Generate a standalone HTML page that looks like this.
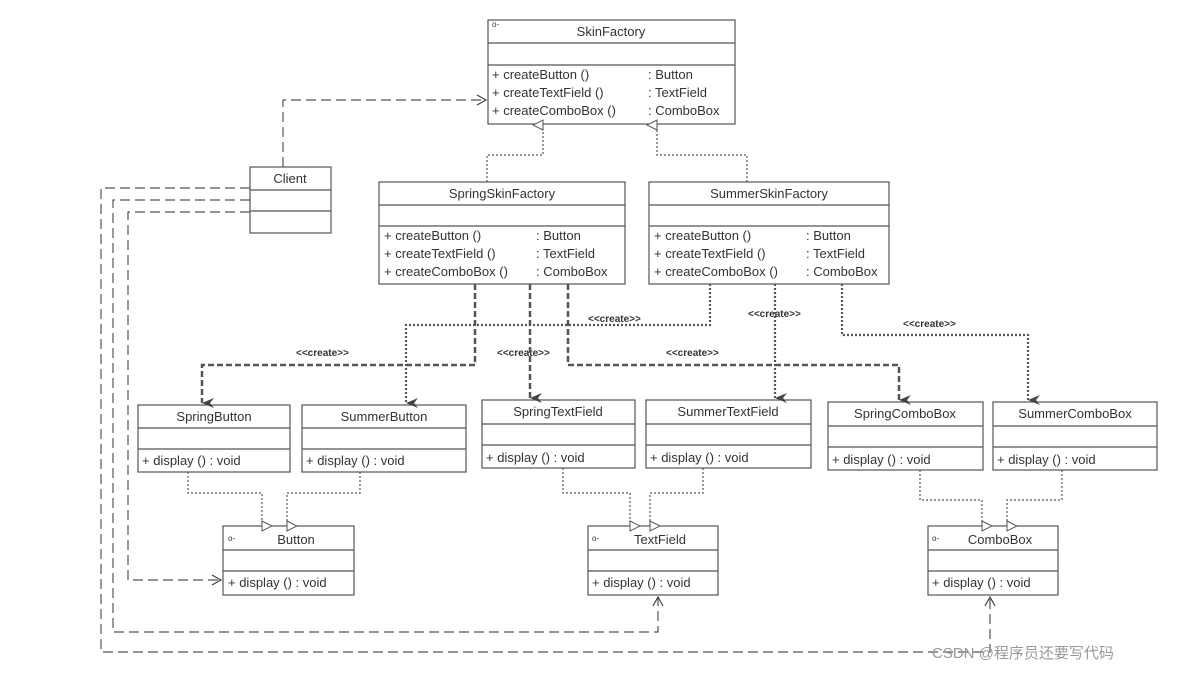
<!DOCTYPE html>
<html><head><meta charset="utf-8"><style>
html,body{margin:0;padding:0;background:#fff;}
svg text{font-family:"Liberation Sans",sans-serif;fill:#333;}
</style></head><body>
<svg width="1179" height="671" viewBox="0 0 1179 671" xmlns="http://www.w3.org/2000/svg">
<defs>
<marker id="tri" markerWidth="12" markerHeight="12" refX="6" refY="11" orient="auto" markerUnits="userSpaceOnUse"><path d="M1,11 L6,1 L11,11 Z" transform="rotate(0)" fill="#fff" stroke="#555"/></marker>
<marker id="open" markerWidth="12" markerHeight="12" refX="10" refY="6" orient="auto" markerUnits="userSpaceOnUse"><path d="M1,1 L10,6 L1,11" fill="none" stroke="#444" stroke-width="1.2"/></marker>
<marker id="fill" markerWidth="12" markerHeight="14" refX="6" refY="13" orient="auto-start-reverse" markerUnits="userSpaceOnUse"><path d="M1,1 L6,13 L11,1 L6,5 Z" fill="#444"/></marker>
</defs>
<g fill="#fff" stroke="#555" stroke-width="1.2">
<rect x="488" y="20" width="247" height="104"/><line x1="488" y1="43" x2="735" y2="43"/><line x1="488" y1="65" x2="735" y2="65"/>
<rect x="250" y="167" width="81" height="66"/><line x1="250" y1="190" x2="331" y2="190"/><line x1="250" y1="211" x2="331" y2="211"/>
<rect x="379" y="182" width="246" height="102"/><line x1="379" y1="205" x2="625" y2="205"/><line x1="379" y1="226" x2="625" y2="226"/>
<rect x="649" y="182" width="240" height="102"/><line x1="649" y1="205" x2="889" y2="205"/><line x1="649" y1="226" x2="889" y2="226"/>
<rect x="138" y="405" width="152" height="67"/><line x1="138" y1="428" x2="290" y2="428"/><line x1="138" y1="449" x2="290" y2="449"/>
<rect x="302" y="405" width="164" height="67"/><line x1="302" y1="428" x2="466" y2="428"/><line x1="302" y1="449" x2="466" y2="449"/>
<rect x="482" y="400" width="153" height="68"/><line x1="482" y1="424" x2="635" y2="424"/><line x1="482" y1="445" x2="635" y2="445"/>
<rect x="646" y="400" width="165" height="68"/><line x1="646" y1="424" x2="811" y2="424"/><line x1="646" y1="445" x2="811" y2="445"/>
<rect x="828" y="402" width="155" height="68"/><line x1="828" y1="426" x2="983" y2="426"/><line x1="828" y1="447" x2="983" y2="447"/>
<rect x="993" y="402" width="164" height="68"/><line x1="993" y1="426" x2="1157" y2="426"/><line x1="993" y1="447" x2="1157" y2="447"/>
<rect x="223" y="526" width="131" height="69"/><line x1="223" y1="550" x2="354" y2="550"/><line x1="223" y1="571" x2="354" y2="571"/>
<rect x="588" y="526" width="130" height="69"/><line x1="588" y1="550" x2="718" y2="550"/><line x1="588" y1="571" x2="718" y2="571"/>
<rect x="928" y="526" width="130" height="69"/><line x1="928" y1="550" x2="1058" y2="550"/><line x1="928" y1="571" x2="1058" y2="571"/>
</g>
<g font-size="13">
<text x="611" y="36" text-anchor="middle">SkinFactory</text>
<text x="492" y="27" font-size="8">o-</text>
<text x="492" y="79">+  createButton ()</text><text x="648" y="79">: Button</text>
<text x="492" y="97">+  createTextField ()</text><text x="648" y="97">: TextField</text>
<text x="492" y="115">+  createComboBox ()</text><text x="648" y="115">: ComboBox</text>
<text x="290" y="183" text-anchor="middle">Client</text>
<text x="502" y="198" text-anchor="middle">SpringSkinFactory</text>
<text x="384" y="240">+  createButton ()</text><text x="536" y="240">: Button</text>
<text x="384" y="258">+  createTextField ()</text><text x="536" y="258">: TextField</text>
<text x="384" y="276">+  createComboBox ()</text><text x="536" y="276">: ComboBox</text>
<text x="769" y="198" text-anchor="middle">SummerSkinFactory</text>
<text x="654" y="240">+  createButton ()</text><text x="806" y="240">: Button</text>
<text x="654" y="258">+  createTextField ()</text><text x="806" y="258">: TextField</text>
<text x="654" y="276">+  createComboBox ()</text><text x="806" y="276">: ComboBox</text>
<text x="214" y="421" text-anchor="middle">SpringButton</text><text x="142" y="465">+ display () : void</text>
<text x="384" y="421" text-anchor="middle">SummerButton</text><text x="306" y="465">+ display () : void</text>
<text x="558" y="416" text-anchor="middle">SpringTextField</text><text x="486" y="462">+ display () : void</text>
<text x="728" y="416" text-anchor="middle">SummerTextField</text><text x="650" y="462">+ display () : void</text>
<text x="905" y="418" text-anchor="middle">SpringComboBox</text><text x="832" y="464">+ display () : void</text>
<text x="1075" y="418" text-anchor="middle">SummerComboBox</text><text x="997" y="464">+ display () : void</text>
<text x="296" y="544" text-anchor="middle">Button</text><text x="228" y="587">+ display () : void</text>
<text x="660" y="544" text-anchor="middle">TextField</text><text x="592" y="587">+ display () : void</text>
<text x="1000" y="544" text-anchor="middle">ComboBox</text><text x="932" y="587">+ display () : void</text>
<text x="228" y="541" font-size="8">o-</text><text x="592" y="541" font-size="8">o-</text><text x="932" y="541" font-size="8">o-</text>
</g>
<g font-size="10" font-weight="bold" fill="#333">
<text x="296" y="356">&lt;&lt;create&gt;&gt;</text>
<text x="497" y="356">&lt;&lt;create&gt;&gt;</text>
<text x="666" y="356">&lt;&lt;create&gt;&gt;</text>
<text x="588" y="322">&lt;&lt;create&gt;&gt;</text>
<text x="748" y="317">&lt;&lt;create&gt;&gt;</text>
<text x="903" y="327">&lt;&lt;create&gt;&gt;</text>
</g>
<g fill="none" stroke="#555" stroke-width="1.2">
<!-- client to skinfactory -->
<polyline points="283,167 283,100 486,100" stroke-dasharray="10,5" marker-end="url(#open)"/>
<!-- realization -->
<polyline points="487,182 487,155 543,155 543,125" stroke-dasharray="2,2" marker-end="url(#tri)"/>
<polyline points="747,182 747,155 657,155 657,125" stroke-dasharray="2,2" marker-end="url(#tri)"/>
<!-- generalization -->
<polyline points="188,472 188,493 262,493 262,526" stroke-dasharray="2,2" marker-end="url(#tri)"/>
<polyline points="360,472 360,493 287,493 287,526" stroke-dasharray="2,2" marker-end="url(#tri)"/>
<polyline points="563,468 563,493 630,493 630,526" stroke-dasharray="2,2" marker-end="url(#tri)"/>
<polyline points="703,468 703,493 650,493 650,526" stroke-dasharray="2,2" marker-end="url(#tri)"/>
<polyline points="920,470 920,500 982,500 982,526" stroke-dasharray="2,2" marker-end="url(#tri)"/>
<polyline points="1062,470 1062,500 1007,500 1007,526" stroke-dasharray="2,2" marker-end="url(#tri)"/>
<!-- client lines -->
<polyline points="250,188 101,188 101,652 990,652 990,597" stroke-dasharray="10,5" marker-end="url(#open)"/>
<polyline points="250,200 113,200 113,632 658,632 658,597" stroke-dasharray="10,5" marker-end="url(#open)"/>
<polyline points="250,212 128,212 128,580 221,580" stroke-dasharray="10,5" marker-end="url(#open)"/>
</g>
<g fill="none" stroke="#555" stroke-width="2.5" stroke-dasharray="6,3">
<polyline points="475,284 475,365 202,365 202,403" marker-end="url(#fill)"/>
<polyline points="530,284 530,398" marker-end="url(#fill)"/>
<polyline points="568,284 568,365 899,365 899,400" marker-end="url(#fill)"/>
</g>
<g fill="none" stroke="#555" stroke-width="2.2" stroke-dasharray="2,2">
<polyline points="710,284 710,325 406,325 406,403" marker-end="url(#fill)"/>
<polyline points="775,284 775,398" marker-end="url(#fill)"/>
<polyline points="842,284 842,335 1028,335 1028,400" marker-end="url(#fill)"/>
</g>
<text x="932" y="658" font-size="15" fill="#888" style="font-family:'Liberation Sans','Noto Sans CJK SC',sans-serif;fill:#999">CSDN @程序员还要写代码</text>
</svg>
</body></html>
